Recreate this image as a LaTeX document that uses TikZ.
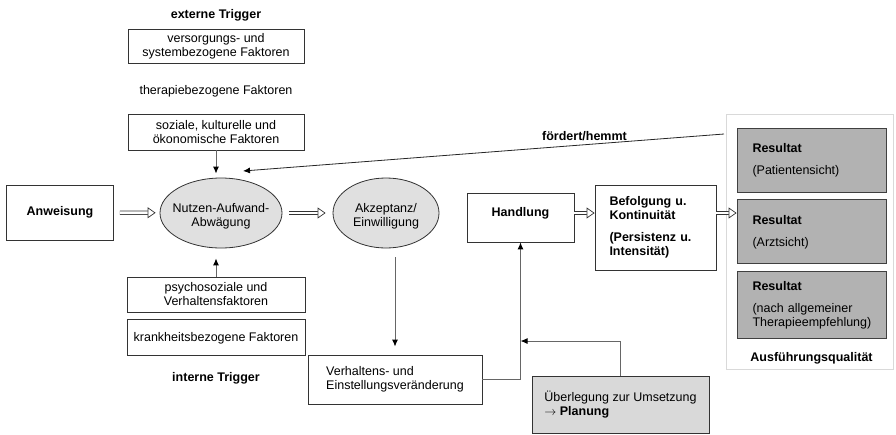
\documentclass[tikz,border=0pt]{standalone}
\usepackage{fontspec}
\setmainfont{Liberation Sans}
\usetikzlibrary{arrows.meta,positioning,shapes.geometric}

\begin{document}
\begin{tikzpicture}[x=1pt,y=-1pt,->,>={Latex[length=7pt,width=6pt,color=black]},
                    every node/.style={font=\fontsize{12.5}{14}\selectfont, inner sep=0pt},
                    box/.style={draw=black!80, line width=0.8pt, align=center},
                    bubble/.style={ellipse, draw=black!80, fill=black!12, line width=0.8pt},
                    result/.style={draw=black!75, fill=black!30, line width=0.8pt, minimum width=149pt, text width=118pt, align=left},
                    heading/.style={font=\fontsize{12.5}{14}\selectfont\bfseries},
                    wire/.style={draw=black!60, line width=1pt},
                    hollow/.style={draw=black!80, double=white, double distance=2.8pt, line width=0.7pt, -{Triangle[open, length=8pt, width=11pt, fill=white]}},
                    ]
    \useasboundingbox (0,0) rectangle (896,434);

    % externe Trigger
    \node [heading](1) at (216,15) {externe Trigger};
    \node [box, minimum width=176pt, minimum height=34pt](2) at (216,46) {versorgungs- und\\systembezogene Faktoren};
    \node [](3) at (216,91) {therapiebezogene Faktoren};
    \node [box, minimum width=176pt, minimum height=36pt](4) at (216,132) {soziale, kulturelle und\\ökonomische Faktoren};

    % main row
    \node [box, heading, minimum width=107pt, minimum height=55pt](5) at (60,212.5) {Anweisung};
    \node [bubble, minimum width=122pt, minimum height=70pt, label={[align=center, yshift=-3pt]center:{Nutzen-Aufwand-\\Abwägung}}](6) at (221,213) {};
    \node [bubble, minimum width=106pt, minimum height=70pt, label={[align=center, yshift=-3pt]center:{Akzeptanz/\\Einwilligung}}](7) at (386,213) {};
    \node [box, heading, minimum width=107pt, minimum height=49pt, text height=9pt, text depth=12pt](8) at (520.5,217.5) {Handlung};
    \node [box, heading, minimum width=121pt, minimum height=85pt, text width=92pt, align=left](9) at (655.5,227.5) {Befolgung u.\\Kontinuität\\[8pt](Persistenz u.\\Intensität)};

    % Ausfuehrungsqualitaet
    \node [draw=black!15, line width=0.8pt, minimum width=167pt, minimum height=255pt](10) at (809.5,241.5) {};
    \node [result, minimum height=64pt](11) at (811.5,160) {\textbf{Resultat}\\[8pt](Patientensicht)};
    \node [result, minimum height=64pt, below=7pt of 11](12) {\textbf{Resultat}\\[8pt](Arztsicht)};
    \node [result, minimum height=67pt, below=7pt of 12](13) {\textbf{Resultat}\\[8pt](nach allgemeiner\\Therapieempfehlung)};
    \node [heading, below=13.5pt of 13](14) {Ausführungsqualität};

    % interne Trigger
    \node [box, minimum width=178pt, minimum height=35pt](15) at (216,294.5) {psychosoziale und\\Verhaltensfaktoren};
    \node [box, minimum width=178pt, minimum height=36pt, below=7pt of 15](16) {krankheitsbezogene Faktoren};
    \node [heading, below=16pt of 16](17) {interne Trigger};

    \node [box, minimum width=174pt, minimum height=49pt, align=left](18) at (395,379.5) {Verhaltens- und\\Einstellungsveränderung};
    \node [box, fill=black!15, minimum width=177pt, minimum height=57pt, align=left](19) at (620.5,404.5) {Überlegung zur Umsetzung\\$\rightarrow$ \textbf{Planung}};

    \coordinate (a) at (724,134);
    \coordinate (b) at (243,171);
    \coordinate (j) at (520.5,341);

    % hollow arrows
    \draw [hollow, shorten <=6pt, shorten >=4pt] (5) -- (6);
    \draw [hollow, shorten <=7pt, shorten >=7pt] (6) -- (7);
    \draw [hollow] ([yshift=4.5pt]8.east) -- ([yshift=4.5pt]8.east -| 9.west);
    \draw [hollow] ([yshift=14.5pt]9.east) -- ([yshift=14.5pt]9.east -| 12.west);

    \draw [wire, shorten >=4pt] (4) -- (4 |- 6.north);
    \draw [wire, shorten >=10pt] (15) -- (15 |- 6.south);
    \draw [wire, shorten <=9pt, shorten >=8pt] (7.south -| 18) -- (18);
    \draw [wire] (18.east) -| (8.south);
    \draw [wire] (19.north) |- (j);

    \draw [draw=black!85, line width=0.8pt] (a) -- node[heading, pos=0.29, above=4pt]{fördert/hemmt} (b);
\end{tikzpicture}
\end{document}
